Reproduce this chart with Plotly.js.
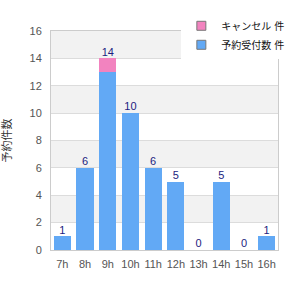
<!DOCTYPE html>
<html><head><meta charset="utf-8">
<script src="https://cdn.plot.ly/plotly-3.0.1.min.js"></script>
<style>body{margin:0}#c{width:300px;height:300px}</style>
</head><body><div id="c"></div>
<script>
const hours = ["7h","8h","9h","10h","11h","12h","13h","14h","15h","16h"];
const blueVals = [1,6,13,10,6,5,0,5,0,1];
const pinkVals = [0,0,1,0,0,0,0,0,0,0];
const pinkName = "キャンセル 件";
const blueName = "予約受付数 件";
const yTitle = "予約件数";
const yTicks = [0,2,4,6,8,10,12,14,16];

const totals = blueVals.map((v,i)=>v+pinkVals[i]);
const blueC = "#62a9f5", pinkC = "#f283bf";
const font = "Liberation Sans, Arial, Noto Sans CJK JP, sans-serif";

const bands = [];
for (let i=1;i<yTicks.length-1;i+=2){
  bands.push({type:"rect",xref:"paper",yref:"y",x0:0,x1:1,y0:yTicks[i],y1:yTicks[i+1],fillcolor:"#f2f2f2",line:{width:0},layer:"below"});
}

const data = [
  {type:"bar",x:hours,y:blueVals,marker:{color:blueC},showlegend:false,hoverinfo:"skip"},
  {type:"bar",x:hours,y:pinkVals,marker:{color:pinkC},showlegend:false,hoverinfo:"skip"},
  {type:"scatter",mode:"text",x:hours,y:totals,text:totals.map(String),textposition:"top center",
   textfont:{color:"#1c1c80",size:11,family:font},showlegend:false,hoverinfo:"skip",cliponaxis:false},
  {type:"scatter",mode:"markers",x:[null],y:[null],name:pinkName,marker:{symbol:"square",size:9,color:pinkC,line:{color:"#777",width:1}}},
  {type:"scatter",mode:"markers",x:[null],y:[null],name:blueName,marker:{symbol:"square",size:9,color:blueC,line:{color:"#777",width:1}}}
];

const layout = {
  width:300,height:300,
  margin:{l:51,r:11,t:20,b:50},
  barmode:"stack",bargap:0.24,
  paper_bgcolor:"#fff",plot_bgcolor:"#fff",
  font:{family:font,size:11,color:"#555"},
  shapes:bands,
  xaxis:{type:"category",showline:true,linecolor:"#ccc",mirror:true,ticks:"",ticklabelstandoff:4,tickfont:{size:11,color:"#555"},showgrid:false,zeroline:false},
  yaxis:{range:[0,16],tickvals:yTicks,showgrid:true,gridcolor:"#dcdcdc",showline:true,linecolor:"#ccc",mirror:true,zeroline:false,
    ticklabelstandoff:6,tickfont:{size:11,color:"#555"},title:{text:yTitle,font:{size:11,color:"#333"},standoff:22}},
  legend:{x:1.05,xanchor:"right",y:1.09,yanchor:"top",bgcolor:"#fff",font:{size:10,color:"#111"},traceorder:"normal",itemwidth:30,tracegroupgap:0}
};
Plotly.newPlot("c",data,layout,{displayModeBar:false,staticPlot:true});
</script></body></html>
